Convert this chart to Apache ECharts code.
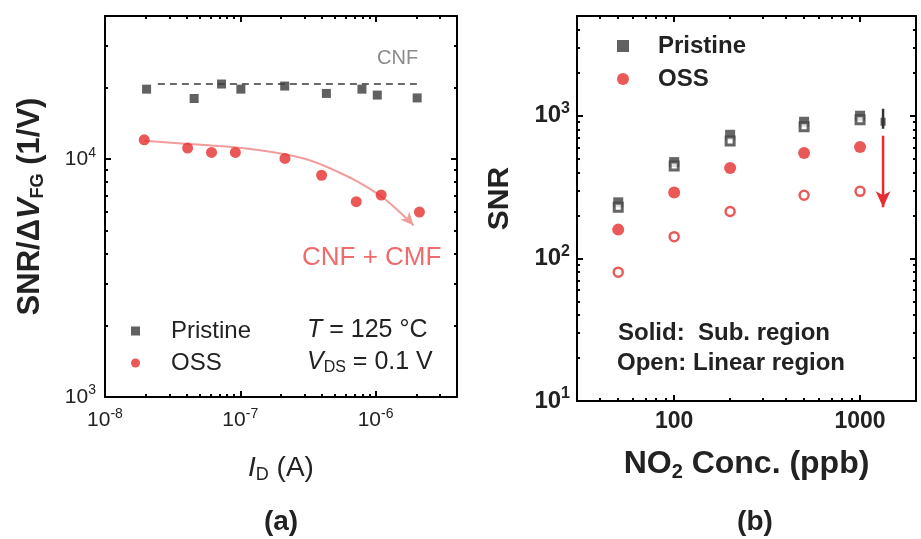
<!DOCTYPE html>
<html lang="en">
<head>
<meta charset="UTF-8">
<title>SNR vs ID and NO2 concentration</title>
<script src="https://cdn.jsdelivr.net/npm/echarts@6/dist/echarts.min.js"></script>
<style>
    * { margin: 0; padding: 0; }
    body { background: #fff; }
    #chart { width: 921px; height: 539px; }
</style>
</head>
<body>
<div id="chart"></div>
<script>
// (a) SNR/dVFG vs ID
var idPristine  = [2.03e-8, 4.56e-8, 7.27e-8, 1.01e-7, 2.13e-7, 4.33e-7, 7.93e-7, 1.03e-6, 2.03e-6];
var snrPristine = [19700, 18000, 20700, 19700, 20300, 18900, 19700, 18600, 18100];
var idOss  = [1.95e-8, 4.08e-8, 6.13e-8, 9.2e-8, 2.14e-7, 3.99e-7, 7.2e-7, 1.10e-6, 2.11e-6];
var snrOss = [12060, 11130, 10670, 10670, 10070, 8560, 6630, 7070, 5990];
var cnfX = [2.46e-8, 2.19e-6];
var cnfY = [20700, 20700];
var fitX = [1.95e-8, 5.47e-8, 1.14e-7, 2.14e-7, 2.99e-7, 4.0e-7, 5.24e-7, 7.37e-7, 1.11e-6, 1.45e-6, 1.91e-6];
var fitY = [11940, 11460, 11075, 10500, 10050, 9480, 8855, 8040, 6950, 6120, 5270];

// (b) SNR vs NO2 concentration
var conc = [50, 100, 200, 500, 1000];
var pristineSub = [247, 473, 735, 907, 1000];
var pristineLin = [228, 444, 666, 836, 937];
var ossSub = [159, 290, 430, 548, 604];
var ossLin = [80, 142, 213, 277, 295];
var markX = 1330;
var blackBar = [810, 1120];
var blackDot = 907;
var redArrow = [723, 228];

var FONT = '"Liberation Sans", Arial, sans-serif';

function zip(xs, ys) {
    return xs.map(function (x, i) { return [x, ys[i]]; });
}

function pow10(v) {
    var l = Math.log10(v), e = Math.round(l);
    if (Math.abs(l - e) > 1e-6) return '';
    return '{b|10}{s|' + e + '}';
}

function plain(v) {
    var l = Math.log10(v);
    if (Math.abs(l - Math.round(l)) > 1e-6 || v < 100) return '';
    return String(Math.round(v));
}

function logAxis(o) {
    var a = {
        type: 'log',
        logBase: 10,
        axisLine: { show: true, onZero: false, lineStyle: { color: '#000', width: 2 } },
        axisTick: { show: true, inside: true, length: 6, lineStyle: { color: '#000', width: 2 } },
        minorTick: { show: true, splitNumber: 9, length: 3, lineStyle: { color: '#000', width: 2 } },
        splitLine: { show: false },
        minorSplitLine: { show: false },
        axisLabel: { show: false }
    };
    for (var k in o) a[k] = o[k];
    return a;
}

function richLabel(size, bold) {
    var w = bold ? 'bold' : 'normal';
    return {
        b: { fontFamily: FONT, fontSize: size, fontWeight: w, color: '#222', lineHeight: size + 6, verticalAlign: 'middle' },
        s: { fontFamily: FONT, fontSize: Math.round(size * 0.66), fontWeight: w, color: '#222', lineHeight: Math.round(size * 0.66), verticalAlign: 'top' }
    };
}

var fitData = zip(fitX, fitY).map(function (p, i, arr) {
    if (i < arr.length - 1) return { value: p, symbol: 'none' };
    return { value: p, symbol: 'arrow', symbolSize: [9, 13], symbolRotate: 222 };
});

var option = {
    animation: false,
    backgroundColor: '#fff',
    grid: [
        { left: 105, top: 16, width: 352, height: 381 },
        { left: 577, top: 16, width: 339, height: 385 }
    ],
    xAxis: [
        logAxis({
            gridIndex: 0, min: 1e-8, max: 4e-6, position: 'bottom',
            axisLabel: { show: true, margin: 10, formatter: pow10, rich: richLabel(21, false) },
            name: '{i|I}{s|D}{t| (A)}', nameLocation: 'middle', nameGap: 55,
            nameTextStyle: {
                rich: {
                    i: { fontFamily: FONT, fontSize: 28, fontStyle: 'italic', color: '#222', lineHeight: 32, verticalAlign: 'middle' },
                    s: { fontFamily: FONT, fontSize: 18, color: '#222', lineHeight: 18, verticalAlign: 'bottom' },
                    t: { fontFamily: FONT, fontSize: 28, color: '#222', lineHeight: 32, verticalAlign: 'middle' }
                }
            }
        }),
        logAxis({ gridIndex: 0, min: 1e-8, max: 4e-6, position: 'top' }),
        logAxis({
            gridIndex: 1, min: 30, max: 2000, position: 'bottom',
            axisLabel: { show: true, margin: 9, formatter: plain, fontFamily: FONT, fontSize: 23, fontWeight: 'bold', color: '#222' },
            name: '{t|NO}{s|2}{t| Conc. (ppb)}', nameLocation: 'middle', nameGap: 45,
            nameTextStyle: {
                rich: {
                    t: { fontFamily: FONT, fontSize: 32, fontWeight: 'bold', color: '#222', lineHeight: 36, verticalAlign: 'middle' },
                    s: { fontFamily: FONT, fontSize: 20, fontWeight: 'bold', color: '#222', lineHeight: 20, verticalAlign: 'bottom' }
                }
            }
        }),
        logAxis({ gridIndex: 1, min: 30, max: 2000, position: 'top' })
    ],
    yAxis: [
        logAxis({
            gridIndex: 0, min: 1000, max: 40000, position: 'left',
            axisLabel: { show: true, margin: 9, formatter: pow10, rich: richLabel(21, false) },
            name: '{t|SNR/Δ}{v|V}{s|FG}{t| (1/V)}', nameLocation: 'middle', nameGap: 58,
            nameTextStyle: {
                rich: {
                    t: { fontFamily: FONT, fontSize: 31, fontWeight: 'bold', color: '#222', lineHeight: 34, verticalAlign: 'middle' },
                    v: { fontFamily: FONT, fontSize: 31, fontWeight: 'bold', fontStyle: 'italic', color: '#222', lineHeight: 34, verticalAlign: 'middle' },
                    s: { fontFamily: FONT, fontSize: 18, fontWeight: 'bold', color: '#222', lineHeight: 18, verticalAlign: 'bottom' }
                }
            }
        }),
        logAxis({ gridIndex: 0, min: 1000, max: 40000, position: 'right' }),
        logAxis({
            gridIndex: 1, min: 10, max: 5000, position: 'left',
            axisLabel: { show: true, margin: 7, formatter: pow10, rich: richLabel(24, true) },
            name: 'SNR', nameLocation: 'middle', nameGap: 62,
            nameTextStyle: { fontFamily: FONT, fontSize: 30, fontWeight: 'bold', color: '#222', padding: [0, 0, 0, 20] }
        }),
        logAxis({ gridIndex: 1, min: 10, max: 5000, position: 'right' })
    ],
    legend: [
        {
            data: ['Pristine', 'OSS'], orient: 'vertical', left: 126, top: 314,
            itemWidth: 9, itemHeight: 9, itemGap: 8, selectedMode: false,
            textStyle: { fontFamily: FONT, fontSize: 24, color: '#222', lineHeight: 24, padding: [0, 0, 0, 26] }
        },
        {
            data: ['Pristine', 'OSS'], orient: 'vertical', left: 612, top: 29,
            itemWidth: 12, itemHeight: 12, itemGap: 9, selectedMode: false,
            textStyle: { fontFamily: FONT, fontSize: 24, fontWeight: 'bold', color: '#222', lineHeight: 24, padding: [0, 0, 0, 24] }
        }
    ],
    series: [
        // (a)
        {
            type: 'line', xAxisIndex: 0, yAxisIndex: 0, data: zip(cnfX, cnfY),
            symbol: 'none', lineStyle: { color: '#6a6a6a', width: 2, type: [7, 5] }, z: 1
        },
        {
            type: 'line', xAxisIndex: 0, yAxisIndex: 0, data: fitData, smooth: 0.4,
            symbol: 'circle', showSymbol: true,
            lineStyle: { color: '#f39c9c', width: 2 }, itemStyle: { color: '#f39c9c' }, z: 1
        },
        {
            name: 'Pristine', type: 'scatter', xAxisIndex: 0, yAxisIndex: 0,
            data: zip(idPristine, snrPristine), symbol: 'rect', symbolSize: 9,
            itemStyle: { color: '#3a3a3a' }, z: 3
        },
        {
            name: 'OSS', type: 'scatter', xAxisIndex: 0, yAxisIndex: 0,
            data: zip(idOss, snrOss), symbol: 'circle', symbolSize: 11,
            itemStyle: { color: '#e62e2e' }, z: 3
        },
        // (b)
        {
            name: 'Pristine', type: 'scatter', xAxisIndex: 2, yAxisIndex: 2,
            data: zip(conc, pristineSub), symbol: 'rect', symbolSize: 10,
            itemStyle: { color: '#404040' }, z: 2
        },
        {
            name: 'Pristine open', type: 'scatter', xAxisIndex: 2, yAxisIndex: 2,
            data: zip(conc, pristineLin), symbol: 'rect', symbolSize: 8,
            itemStyle: { color: '#fff', borderColor: '#404040', borderWidth: 3 }, z: 3
        },
        {
            name: 'OSS', type: 'scatter', xAxisIndex: 2, yAxisIndex: 2,
            data: zip(conc, ossSub), symbol: 'circle', symbolSize: 12,
            itemStyle: { color: '#e62e2e' }, z: 2
        },
        {
            name: 'OSS open', type: 'scatter', xAxisIndex: 2, yAxisIndex: 2,
            data: zip(conc, ossLin), symbol: 'circle', symbolSize: 9,
            itemStyle: { color: '#fff', borderColor: '#e62e2e', borderWidth: 2.5 }, z: 2
        },
        {
            type: 'line', xAxisIndex: 2, yAxisIndex: 2,
            data: [[markX, blackBar[0]], [markX, blackBar[1]]],
            symbol: 'none', lineStyle: { color: '#333', width: 2.5 }
        },
        {
            type: 'scatter', xAxisIndex: 2, yAxisIndex: 2,
            data: [[markX, blackDot]], symbol: 'rect', symbolSize: [5, 8],
            itemStyle: { color: '#333' }
        },
        {
            type: 'line', xAxisIndex: 2, yAxisIndex: 2,
            data: [
                { value: [markX, redArrow[0]], symbol: 'none' },
                { value: [markX, redArrow[1]], symbol: 'arrow', symbolSize: [11, 16], symbolRotate: 180 }
            ],
            symbol: 'circle', showSymbol: true,
            lineStyle: { color: '#e62e2e', width: 2.5 }, itemStyle: { color: '#e62e2e' }
        }
    ],
    graphic: [
        { type: 'text', x: 377, y: 58, style: { text: 'CNF', fontFamily: FONT, fontSize: 20, fill: '#8a8a8a', verticalAlign: 'middle' } },
        { type: 'text', x: 302, y: 258, style: { text: 'CNF + CMF', fontFamily: FONT, fontSize: 26, fill: '#f06b6b', verticalAlign: 'middle' } },
        {
            type: 'text', x: 307, y: 330,
            style: {
                text: '{i|T}{t| = 125 °C}', verticalAlign: 'middle',
                rich: {
                    i: { fontFamily: FONT, fontSize: 25, fontStyle: 'italic', fill: '#222', lineHeight: 28, verticalAlign: 'middle' },
                    t: { fontFamily: FONT, fontSize: 25, fill: '#222', lineHeight: 28, verticalAlign: 'middle' }
                }
            }
        },
        {
            type: 'text', x: 307, y: 362,
            style: {
                text: '{i|V}{s|DS}{t| = 0.1 V}', verticalAlign: 'middle',
                rich: {
                    i: { fontFamily: FONT, fontSize: 25, fontStyle: 'italic', fill: '#222', lineHeight: 28, verticalAlign: 'middle' },
                    s: { fontFamily: FONT, fontSize: 16, fill: '#222', lineHeight: 16, verticalAlign: 'bottom' },
                    t: { fontFamily: FONT, fontSize: 25, fill: '#222', lineHeight: 28, verticalAlign: 'middle' }
                }
            }
        },
        { type: 'text', x: 618, y: 333, style: { text: 'Solid:  Sub. region', fontFamily: FONT, fontSize: 24, fontWeight: 'bold', fill: '#222', verticalAlign: 'middle' } },
        { type: 'text', x: 617, y: 363, style: { text: 'Open: Linear region', fontFamily: FONT, fontSize: 24, fontWeight: 'bold', fill: '#222', verticalAlign: 'middle' } },
        { type: 'text', x: 281, y: 522, style: { text: '(a)', fontFamily: FONT, fontSize: 28, fontWeight: 'bold', fill: '#222', align: 'center', verticalAlign: 'middle' } },
        { type: 'text', x: 755, y: 522, style: { text: '(b)', fontFamily: FONT, fontSize: 28, fontWeight: 'bold', fill: '#222', align: 'center', verticalAlign: 'middle' } }
    ]
};

var chart = echarts.init(document.getElementById('chart'));
chart.setOption(option);
</script>
</body>
</html>
